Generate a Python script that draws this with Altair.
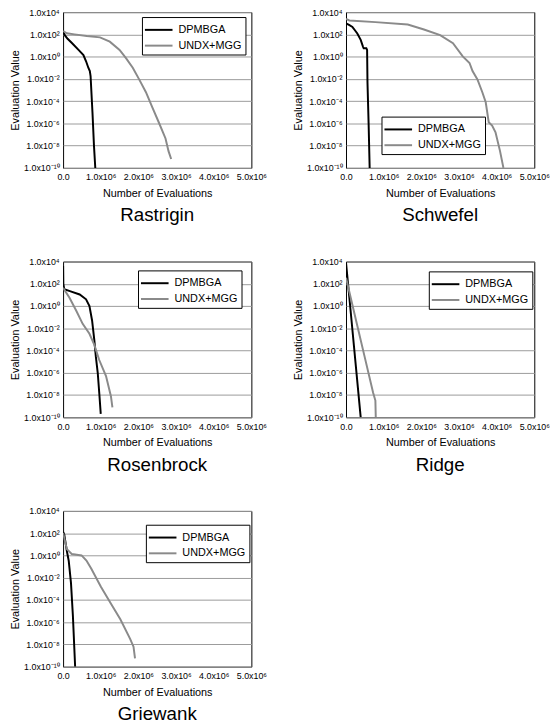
import altair as alt
import pandas as pd

ALGORITHMS = ["DPMBGA", "UNDX+MGG"]
COLORS = ["#000000", "#8a8a8a"]

X_TICKS = [0, 1e6, 2e6, 3e6, 4e6, 5e6]
X_TICK_LABELS = ["0.0", "1.0x10⁶", "2.0x10⁶", "3.0x10⁶", "4.0x10⁶", "5.0x10⁶"]
Y_TICKS = [1e4, 1e2, 1e0, 1e-2, 1e-4, 1e-6, 1e-8, 1e-10]
Y_TICK_LABELS = ["1.0x10⁴", "1.0x10²", "1.0x10⁰", "1.0x10⁻²", "1.0x10⁻⁴",
                 "1.0x10⁻⁶", "1.0x10⁻⁸", "1.0x10⁻¹⁰"]

# evaluations (x 10^6) and evaluation values
RASTRIGIN_DPMBGA_X = [0, 0.05, 0.12, 0.24, 0.41, 0.54, 0.61, 0.67, 0.71, 0.73, 0.78, 0.82, 0.86]
RASTRIGIN_DPMBGA_Y = [2.0e2, 8.0e1, 4.0e1, 1.6e1, 4.0e0, 1.4e0, 3.8e-1, 1.0e-1, 5.0e-2, 1.8e-2, 1.0e-5, 1.0e-8, 5.0e-11]
RASTRIGIN_UNDX_X = [0, 0.1, 0.3, 0.63, 0.98, 1.24, 1.5, 1.67, 1.85, 2.02, 2.2, 2.37, 2.54, 2.72, 2.8, 2.87]
RASTRIGIN_UNDX_Y = [2.0e2, 1.26e2, 1.0e2, 7.0e1, 5.4e1, 2.2e1, 4.0e0, 7.4e-1, 1.0e-1, 9.0e-3, 6.3e-4, 2.8e-5, 1.26e-6, 4.4e-8, 3.2e-9, 6.3e-10]

SCHWEFEL_DPMBGA_X = [0, 0.08, 0.17, 0.3, 0.39, 0.45, 0.47, 0.54, 0.56, 0.57, 0.6, 0.63]
SCHWEFEL_DPMBGA_Y = [1.0e3, 7.0e2, 4.7e2, 1.2e2, 3.2e1, 8.0e0, 5.6e0, 5.6e0, 4.0e0, 5.0e-3, 1.0e-6, 5.0e-11]
SCHWEFEL_UNDX_X = [0, 0.09, 0.78, 1.64, 2.07, 2.5, 2.84, 3.1, 3.28, 3.36, 3.49, 3.62, 3.71, 3.79, 3.88, 3.97, 4.09, 4.18]
SCHWEFEL_UNDX_Y = [2.5e3, 1.8e3, 1.26e3, 7.6e2, 2.75e2, 8.5e1, 1.6e1, 1.05e0, 2.7e-1, 5.0e-2, 8.9e-3, 6.3e-4, 7.9e-5, 1.26e-6, 6.3e-7, 1.6e-7, 3.2e-9, 1.0e-10]

ROSENBROCK_DPMBGA_X = [0, 0.005, 0.03, 0.18, 0.44, 0.61, 0.7, 0.77, 0.83, 0.87, 0.92, 0.96, 1.0]
ROSENBROCK_DPMBGA_Y = [4.0e3, 1.0e2, 3.2e1, 2.2e1, 1.1e1, 4.0e0, 1.0e0, 5.0e-2, 8.0e-4, 2.8e-5, 1.0e-6, 1.6e-8, 2.0e-10]
ROSENBROCK_UNDX_X = [0, 0.17, 0.35, 0.52, 0.7, 0.83, 0.96, 1.14, 1.27, 1.31]
ROSENBROCK_UNDX_Y = [4.4e1, 5.6e0, 3.8e-1, 2.5e-2, 3.2e-3, 3.2e-4, 1.4e-5, 5.0e-7, 7.9e-9, 7.9e-10]

RIDGE_DPMBGA_X = [0, 0.11, 0.39]
RIDGE_DPMBGA_Y = [8.0e3, 1.0e0, 1.0e-10]
RIDGE_UNDX_X = [0, 0.1, 0.3, 0.5, 0.72, 0.78, 0.79]
RIDGE_UNDX_Y = [3.5e2, 1.26e1, 1.7e-2, 2.3e-5, 1.6e-8, 3.2e-9, 1.0e-10]

GRIEWANK_DPMBGA_X = [0, 0.03, 0.1, 0.15, 0.21, 0.26, 0.32]
GRIEWANK_DPMBGA_Y = [1.26e2, 8.0e1, 2.5e0, 3.2e-1, 3.2e-3, 4.0e-6, 1.0e-10]
GRIEWANK_UNDX_X = [0, 0.1, 0.23, 0.49, 0.62, 0.75, 1.0, 1.26, 1.52, 1.78, 1.87, 1.91]
GRIEWANK_UNDX_Y = [1.07e2, 3.7e0, 1.35e0, 1.0e0, 3.5e-1, 6.3e-2, 1.6e-3, 5.4e-5, 1.8e-6, 3.2e-8, 6.3e-9, 5.6e-10]

PANELS = [
    ("Rastrigin", RASTRIGIN_DPMBGA_X, RASTRIGIN_DPMBGA_Y, RASTRIGIN_UNDX_X, RASTRIGIN_UNDX_Y),
    ("Schwefel", SCHWEFEL_DPMBGA_X, SCHWEFEL_DPMBGA_Y, SCHWEFEL_UNDX_X, SCHWEFEL_UNDX_Y),
    ("Rosenbrock", ROSENBROCK_DPMBGA_X, ROSENBROCK_DPMBGA_Y, ROSENBROCK_UNDX_X, ROSENBROCK_UNDX_Y),
    ("Ridge", RIDGE_DPMBGA_X, RIDGE_DPMBGA_Y, RIDGE_UNDX_X, RIDGE_UNDX_Y),
    ("Griewank", GRIEWANK_DPMBGA_X, GRIEWANK_DPMBGA_Y, GRIEWANK_UNDX_X, GRIEWANK_UNDX_Y),
]
LEGEND_POS = {
    "Rastrigin": (80, 5),
    "Schwefel": (36, 106),
    "Rosenbrock": (76, 9),
    "Ridge": (84, 10),
    "Griewank": (84, 14),
}

FONT = "Liberation Sans"
W, H = 191, 158


def label_expr(values, labels, log=False):
    expr = "''"
    for v, lab in reversed(list(zip(values, labels))):
        if log:
            cond = f"abs(log(datum.value) - log({v})) < 0.5"
        else:
            cond = f"abs(datum.value - {v}) < 1e5"
        expr = f"{cond} ? '{lab}' : ({expr})"
    return expr


X_EXPR = label_expr(X_TICKS, X_TICK_LABELS)
Y_EXPR = label_expr(Y_TICKS, Y_TICK_LABELS, log=True)


def panel(name, dx, dy, ux, uy):
    rows = []
    for alg, xs, ys in ((ALGORITHMS[0], dx, dy), (ALGORITHMS[1], ux, uy)):
        for i, (x, y) in enumerate(zip(xs, ys)):
            rows.append({"evals": x * 1e6, "value": y, "algorithm": alg, "step": i})
    df = pd.DataFrame(rows)
    lx, ly = LEGEND_POS[name]
    return alt.Chart(df).mark_line(strokeWidth=2, clip=True).encode(
        x=alt.X("evals:Q",
                scale=alt.Scale(domain=[0, 5e6], nice=False, zero=False),
                axis=alt.Axis(values=X_TICKS, labelExpr=X_EXPR, title="Number of Evaluations",
                              grid=False, ticks=False, domain=False, labelFontSize=9,
                              labelFont=FONT, labelColor="black", labelPadding=5,
                              titleFont=FONT, titleFontSize=11, titleFontWeight="normal",
                              titleColor="black", titlePadding=6, labelFlush=False)),
        y=alt.Y("value:Q",
                scale=alt.Scale(type="log", domain=[1e-10, 1e4], nice=False),
                axis=alt.Axis(values=Y_TICKS, labelExpr=Y_EXPR, title="Evaluation Value",
                              grid=True, gridColor="#9a9a9a", gridWidth=1, ticks=False,
                              domain=False, labelFontSize=9, labelFont=FONT,
                              labelColor="black", labelPadding=4, titleFont=FONT,
                              titleFontSize=11, titleFontWeight="normal", titleColor="black",
                              titlePadding=3, labelFlush=False)),
        color=alt.Color("algorithm:N",
                        scale=alt.Scale(domain=ALGORITHMS, range=COLORS),
                        legend=alt.Legend(orient="none", legendX=lx, legendY=ly, title=None,
                                          symbolType="M-1.25,0H2.25", symbolSize=256,
                                          symbolStrokeWidth=2, labelFont=FONT,
                                          labelFontSize=11, labelColor="black",
                                          strokeColor="black", fillColor="white",
                                          padding=4, rowPadding=2, labelOffset=15)),
        order="step:Q",
    ).properties(
        width=W, height=H,
        title=alt.TitleParams(name, orient="bottom", anchor="middle", frame="group",
                              fontSize=19, font=FONT, fontWeight="normal", color="black",
                              offset=8),
    )


charts = [panel(*p) for p in PANELS]
row1 = alt.hconcat(charts[0], charts[1], spacing=25).resolve_legend(color="independent").resolve_scale(color="independent")
row2 = alt.hconcat(charts[2], charts[3], spacing=25).resolve_legend(color="independent").resolve_scale(color="independent")
row3 = alt.hconcat(charts[4]).resolve_legend(color="independent").resolve_scale(color="independent")

chart = alt.vconcat(row1, row2, row3, spacing=31).resolve_legend(
    color="independent").resolve_scale(color="independent").configure_view(
    stroke="black", strokeWidth=1).properties(
    background="white", padding={"left": 9, "top": 2, "right": 5, "bottom": 5})

chart.save("out.html", embed_options={"renderer": "svg", "actions": False})
